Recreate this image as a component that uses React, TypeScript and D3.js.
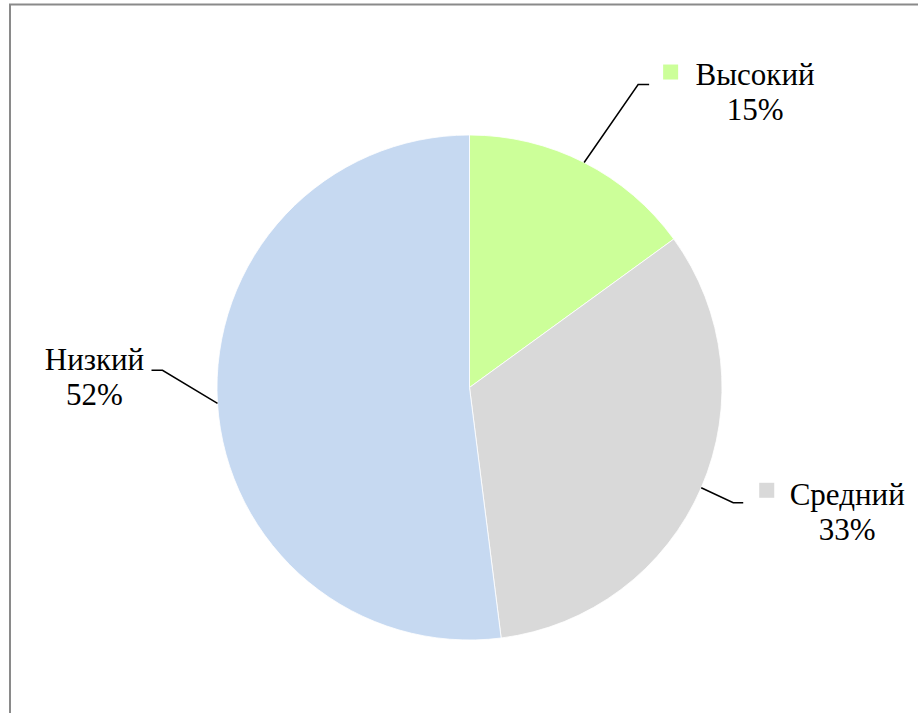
import React from "react";
import * as d3 from "d3";

const categories = ["Высокий", "Средний", "Низкий"];
const values = [15, 33, 52];
const percentLabels = ["15%", "33%", "52%"];
const colors = ["#CCFF99", "#D9D9D9", "#C6D9F1"];
const showMarker = [true, true, false];

// label layout: elbow offset from leader start, horizontal tail length, text center offset from elbow
const elbowOffsets = [[54, -78], [32, 15], [-55, -33]];
const tailLengths = [11, 10, -11];
const textOffsets = [[117, 0], [114, 2], [-68, 0]];
const markerOffsets = [[25, -20], [26, -20], [0, 0]];

const FONT = "'Liberation Serif', 'Times New Roman', 'DejaVu Serif', serif";

export default function App() {
  const W = 918, H = 713;
  const cx = 469.5, cy = 387.5, r = 252.5;
  const pie = d3.pie<number>().sort(null).value((d) => d)(values);
  const arc = d3.arc<d3.PieArcDatum<number>>().innerRadius(0).outerRadius(r);
  return (
    <svg width={W} height={H} style={{ position: "absolute", left: 0, top: 0, background: "#fff" }}>
      <path d={`M10,${H + 5} L10,4.5 L${W + 5},4.5`} fill="none" stroke="#8a8a8a" strokeWidth={2} />
      <g transform={`translate(${cx},${cy})`}>
        {pie.map((p, i) => (
          <path key={i} d={arc(p) || ""} fill={colors[i]} stroke="#ffffff" strokeWidth={0.8} />
        ))}
      </g>
      {pie.map((p, i) => {
        const mid = (p.startAngle + p.endAngle) / 2;
        const sx = cx + r * Math.sin(mid);
        const sy = cy - r * Math.cos(mid);
        const ex = sx + elbowOffsets[i][0];
        const ey = sy + elbowOffsets[i][1];
        const tx = ex + tailLengths[i];
        const lx = ex + textOffsets[i][0];
        const ly = ey + textOffsets[i][1];
        return (
          <g key={i}>
            <polyline points={`${sx},${sy} ${ex},${ey} ${tx},${ey}`} fill="none" stroke="#000" strokeWidth={1.5} />
            {showMarker[i] && (
              <rect x={ex + markerOffsets[i][0]} y={ey + markerOffsets[i][1]} width={15} height={15} fill={colors[i]} />
            )}
            <text x={lx} y={ly} textAnchor="middle" fontFamily={FONT} fontSize={31} fill="#000">
              {categories[i]}
            </text>
            <text x={lx} y={ly + 35} textAnchor="middle" fontFamily={FONT} fontSize={31} fill="#000">
              {percentLabels[i]}
            </text>
          </g>
        );
      })}
    </svg>
  );
}
